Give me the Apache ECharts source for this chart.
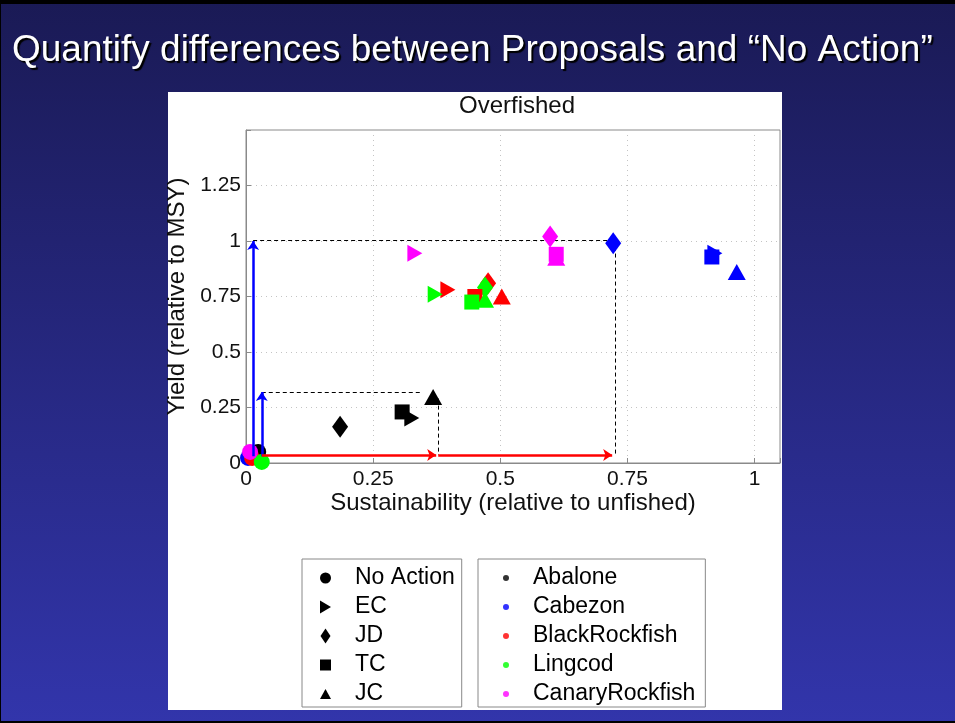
<!DOCTYPE html>
<html>
<head>
<meta charset="utf-8">
<script src="https://cdn.jsdelivr.net/npm/echarts@6/dist/echarts.min.js"></script>
<style>
  html, body { margin: 0; padding: 0; background: #000; }
  #chart { width: 955px; height: 723px; }
</style>
</head>
<body>
<div id="chart"></div>
<script>
// ---------- data ----------
const species = ['Abalone', 'Cabezon', 'BlackRockfish', 'Lingcod', 'CanaryRockfish'];
const speciesColors = ['#000000', '#0000ff', '#ff0000', '#00ff00', '#ff00ff'];
const proposals = ['No Action', 'EC', 'JD', 'TC', 'JC'];

// sustainability (x) and yield (y), one value per species (order as in `species`)
const noActionSust = [0.024, 0.004, 0.012, 0.031, 0.008];
const noActionYield = [0.05, 0.023, 0.023, 0.005, 0.05];
const ecSust = [0.326, 0.922, 0.397, 0.372, 0.332];
const ecYield = [0.203, 0.945, 0.78, 0.76, 0.945];
const jdSust = [0.185, 0.722, 0.476, 0.47, 0.598];
const jdYield = [0.163, 0.99, 0.81, 0.79, 1.02];
const tcSust = [0.307, 0.916, 0.45, 0.444, 0.61];
const tcYield = [0.23, 0.928, 0.75, 0.725, 0.94];
const jcSust = [0.368, 0.965, 0.503, 0.47, 0.61];
const jcYield = [0.297, 0.86, 0.75, 0.735, 0.925];

// annotation segments [x0, y0, x1, y1]
const blueArrows = [[0.014, 0.03, 0.014, 1.0], [0.031, 0.03, 0.031, 0.32]];
const redArrows = [[0.031, 0.036, 0.374, 0.036], [0.378, 0.036, 0.72, 0.036]];
const dashedLines = [[0.014, 1.005, 0.724, 1.005], [0.726, 0.975, 0.726, 0.036],
                     [0.031, 0.32, 0.345, 0.32], [0.378, 0.29, 0.378, 0.036]];

const xTicks = [0, 0.25, 0.5, 0.75, 1];
const yTicks = [0, 0.25, 0.5, 0.75, 1, 1.25];

// ---------- build ----------
const sustByProposal = [noActionSust, ecSust, jdSust, tcSust, jcSust];
const yieldByProposal = [noActionYield, ecYield, jdYield, tcYield, jcYield];
const symbols = ['circle', 'path://M0,0 L10,5 L0,10 Z', 'diamond', 'rect', 'triangle'];
const symbolSizes = [16, [15, 17], [16, 22], 15, [18, 16]];
const legendIcons = ['circle', 'path://M0,0 L10,6 L0,12 Z', 'path://M5,0 L10,7.5 L5,15 L0,7.5 Z', 'path://M0,0 L9,0 L9,9 L0,9 Z', 'path://M5,0 L10,9 L0,9 Z'];

const series = [];
proposals.forEach((p, i) => {
  series.push({
    name: p,
    type: 'scatter',
    symbol: symbols[i],
    symbolSize: symbolSizes[i],
    symbolKeepAspect: false,
    itemStyle: { color: '#000', opacity: 1 },
    z: 5,
    data: species.map((s, j) => ({
      value: [sustByProposal[i][j], yieldByProposal[i][j]],
      itemStyle: { color: speciesColors[j] }
    }))
  });
});
species.forEach((s, j) => {
  series.push({ name: s, type: 'scatter', itemStyle: { color: speciesColors[j] }, data: [] });
});
function segs(arr) { return arr.map(a => ({ coords: [[a[0], a[1]], [a[2], a[3]]] })); }
series.push({
  type: 'lines', coordinateSystem: 'cartesian2d', z: 4,
  symbol: ['none', 'none'],
  lineStyle: { color: '#000', width: 1, type: [4, 3], opacity: 1 },
  data: segs(dashedLines)
});
series.push({
  type: 'lines', coordinateSystem: 'cartesian2d', z: 6,
  symbol: ['none', 'arrow'], symbolSize: [7, 9],
  lineStyle: { color: '#0000ff', width: 2.5, opacity: 1 },
  data: segs(blueArrows)
});
series.push({
  type: 'lines', coordinateSystem: 'cartesian2d', z: 6,
  symbol: ['none', 'arrow'], symbolSize: [7, 9],
  lineStyle: { color: '#ff0000', width: 2.5, opacity: 1 },
  data: segs(redArrows)
});

const fontFam = '"Liberation Sans", Arial, Helvetica, sans-serif';
const gridGray = '#8a8a8a';

const option = {
  animation: false,
  backgroundColor: {
    type: 'linear', x: 0, y: 0, x2: 0, y2: 1,
    colorStops: [{ offset: 0, color: '#1a1a55' }, { offset: 1, color: '#3235ab' }]
  },
  textStyle: { fontFamily: fontFam },
  graphic: [
    { type: 'rect', z: -10, shape: { x: 168, y: 92, width: 614, height: 618 }, style: { fill: '#ffffff' } },
    { type: 'rect', z: -10, shape: { x: 0, y: 0, width: 955, height: 4 }, style: { fill: '#000' } },
    { type: 'rect', z: -10, shape: { x: 0, y: 721, width: 955, height: 2 }, style: { fill: '#000' } },
    { type: 'rect', z: -10, shape: { x: 0, y: 0, width: 1, height: 723 }, style: { fill: '#000' } }
  ],
  title: [
    {
      text: 'Quantify differences between Proposals and \u201cNo Action\u201d',
      left: 7, top: 27,
      textStyle: {
        color: '#fff', fontSize: 37, fontWeight: 'normal', fontFamily: fontFam,
        textShadowColor: '#000', textShadowOffsetX: 2, textShadowOffsetY: 2, textShadowBlur: 1
      }
    },
    {
      text: 'Overfished', left: 512, top: 89, textAlign: 'center',
      textStyle: { color: '#111', fontSize: 24, fontWeight: 'normal', fontFamily: fontFam }
    }
  ],
  legend: [
    {
      data: proposals.map((p, i) => ({ name: p, icon: legendIcons[i] })),
      orient: 'vertical', left: 302, top: 559,
      itemWidth: 11, itemHeight: 15, itemGap: 5,
      padding: [7, 7, 1, 18],
      backgroundColor: '#fff', borderColor: '#888', borderWidth: 1,
      selectedMode: false,
      textStyle: { color: '#000', fontSize: 23, lineHeight: 24, fontFamily: fontFam, padding: [0, 0, 0, 19] }
    },
    {
      data: species.map(s => ({ name: s, icon: 'circle' })),
      orient: 'vertical', left: 478, top: 559,
      itemWidth: 6, itemHeight: 6, itemGap: 5,
      padding: [7, 10, 1, 25],
      backgroundColor: '#fff', borderColor: '#888', borderWidth: 1,
      selectedMode: false,
      textStyle: { color: '#000', fontSize: 23, lineHeight: 24, fontFamily: fontFam, padding: [0, 0, 0, 19] }
    }
  ],
  grid: { left: 246, top: 130, width: 534, height: 333, show: true, borderColor: gridGray, borderWidth: 1, backgroundColor: 'transparent' },
  xAxis: [
    {
      type: 'value', min: 0, max: 1.05, interval: 0.25,
      name: 'Sustainability (relative to unfished)', nameLocation: 'middle', nameGap: 27,
      nameTextStyle: { color: '#111', fontSize: 24, fontFamily: fontFam },
      axisLine: { show: true, onZero: false, lineStyle: { color: gridGray } },
      axisTick: { show: true, inside: true, length: 5, lineStyle: { color: gridGray } },
      axisLabel: { color: '#111', fontSize: 21, margin: 6, fontFamily: fontFam,
        formatter: v => (xTicks.indexOf(+v.toFixed(4)) >= 0 ? String(+v.toFixed(4)) : '') },
      splitLine: { show: true, lineStyle: { color: '#c4c4c4', type: [1, 4] } }
    }
  ],
  yAxis: [
    {
      type: 'value', min: 0, max: 1.5, interval: 0.25,
      name: 'Yield (relative to MSY)', nameLocation: 'middle', nameGap: 51, nameRotate: 90,
      nameTextStyle: { color: '#111', fontSize: 24, fontFamily: fontFam },
      axisLine: { show: true, onZero: false, lineStyle: { color: gridGray } },
      axisTick: { show: true, inside: true, length: 5, lineStyle: { color: gridGray } },
      axisLabel: { color: '#111', fontSize: 21, margin: 5, fontFamily: fontFam,
        formatter: v => (yTicks.indexOf(+v.toFixed(4)) >= 0 ? String(+v.toFixed(4)) : '') },
      splitLine: { show: true, lineStyle: { color: '#c4c4c4', type: [1, 4] } }
    }
  ],
  series: series
};

const chart = echarts.init(document.getElementById('chart'), null, { renderer: 'canvas' });
chart.setOption(option);
</script>
</body>
</html>
